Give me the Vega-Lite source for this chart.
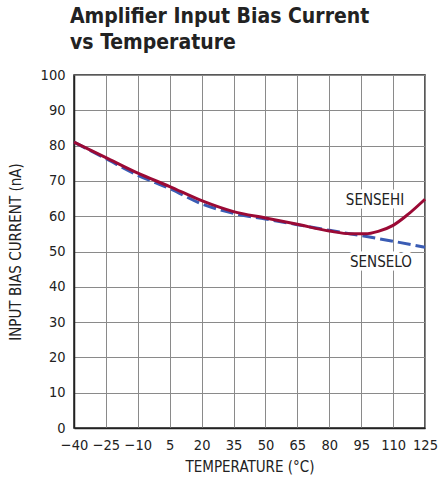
{
  "$schema": "https://vega.github.io/schema/vega-lite/v6.json",
  "width": 351,
  "height": 353,
  "autosize": {"type": "none"},
  "padding": {"left": 74, "top": 75, "right": 15, "bottom": 61},
  "background": "white",
  "title": {
    "text": ["Amplifier Input Bias Current", "vs Temperature"],
    "anchor": "start",
    "frame": "group",
    "font": "Liberation Sans Narrow, DejaVu Sans Condensed, Roboto, sans-serif",
    "fontSize": 21,
    "fontWeight": "bold",
    "color": "#222222",
    "lineHeight": 26,
    "offset": 14,
    "dx": -4
  },
  "config": {
    "view": {"stroke": "#222222", "strokeWidth": 1.5},
    "axis": {
      "ticks": false,
      "grid": true,
      "gridColor": "#8a8a8a",
      "gridWidth": 1,
      "domainColor": "#222222",
      "domainWidth": 1.5,
      "labelFont": "Liberation Sans Narrow, DejaVu Sans Condensed, Roboto, sans-serif",
      "labelFontSize": 14.5,
      "labelColor": "#222222",
      "labelOverlap": false,
      "titleFont": "Liberation Sans Narrow, DejaVu Sans Condensed, Roboto, sans-serif",
      "titleFontSize": 15,
      "titleFontWeight": "normal",
      "titleColor": "#222222"
    }
  },
  "datasets": {
    "curves": [
      {"series": "SENSELO", "temp": -40, "current": 81.0},
      {"series": "SENSELO", "temp": -25, "current": 76.3},
      {"series": "SENSELO", "temp": -10, "current": 71.6},
      {"series": "SENSELO", "temp": 5, "current": 67.8},
      {"series": "SENSELO", "temp": 20, "current": 63.5},
      {"series": "SENSELO", "temp": 35, "current": 60.8},
      {"series": "SENSELO", "temp": 50, "current": 59.2},
      {"series": "SENSELO", "temp": 65, "current": 57.6},
      {"series": "SENSELO", "temp": 80, "current": 56.0},
      {"series": "SENSELO", "temp": 95, "current": 54.5},
      {"series": "SENSELO", "temp": 110, "current": 52.9},
      {"series": "SENSELO", "temp": 125, "current": 51.2},
      {"series": "SENSEHI", "temp": -40, "current": 81.0},
      {"series": "SENSEHI", "temp": -25, "current": 76.6},
      {"series": "SENSEHI", "temp": -10, "current": 72.2},
      {"series": "SENSEHI", "temp": 5, "current": 68.4},
      {"series": "SENSEHI", "temp": 20, "current": 64.4},
      {"series": "SENSEHI", "temp": 35, "current": 61.3},
      {"series": "SENSEHI", "temp": 50, "current": 59.5},
      {"series": "SENSEHI", "temp": 65, "current": 57.7},
      {"series": "SENSEHI", "temp": 80, "current": 55.8},
      {"series": "SENSEHI", "temp": 90, "current": 55.0},
      {"series": "SENSEHI", "temp": 97, "current": 55.0},
      {"series": "SENSEHI", "temp": 103, "current": 55.7},
      {"series": "SENSEHI", "temp": 110, "current": 57.4},
      {"series": "SENSEHI", "temp": 117, "current": 60.5},
      {"series": "SENSEHI", "temp": 125, "current": 64.8}
    ],
    "labels": [
      {"series": "SENSEHI", "temp": 101.5, "current": 64.6},
      {"series": "SENSELO", "temp": 104.3, "current": 47.0}
    ]
  },
  "encoding": {
    "x": {
      "field": "temp", "type": "quantitative",
      "scale": {"domain": [-40, 125], "nice": false, "zero": false},
      "axis": {
        "values": [-40, -25, -10, 5, 20, 35, 50, 65, 80, 95, 110, 125],
        "title": "TEMPERATURE (°C)",
        "labelPadding": 10,
        "titlePadding": 8,
        "labelExpr": "replace(datum.label, '-', '–')",
        "labelFlush": false
      }
    },
    "y": {
      "field": "current", "type": "quantitative",
      "scale": {"domain": [0, 100], "nice": false},
      "axis": {
        "values": [0, 10, 20, 30, 40, 50, 60, 70, 80, 90, 100],
        "title": "INPUT BIAS CURRENT (nA)",
        "labelPadding": 9,
        "titlePadding": 17
      }
    }
  },
  "layer": [
    {
      "data": {"name": "curves"},
      "transform": [{"filter": "datum.series === 'SENSELO'"}],
      "mark": {"type": "line", "interpolate": "monotone", "color": "#3a5cb4", "strokeWidth": 3, "strokeDash": [13, 5]}
    },
    {
      "data": {"name": "curves"},
      "transform": [{"filter": "datum.series === 'SENSEHI'"}],
      "mark": {"type": "line", "interpolate": "monotone", "color": "#9b0a35", "strokeWidth": 3}
    },
    {
      "data": {"name": "labels"},
      "mark": {"type": "text", "font": "Liberation Sans Narrow, DejaVu Sans Condensed, Roboto, sans-serif", "fontSize": 15, "stroke": "white", "strokeWidth": 7, "strokeJoin": "round", "fill": "white"},
      "encoding": {"text": {"field": "series"}}
    },
    {
      "data": {"name": "labels"},
      "mark": {"type": "text", "font": "Liberation Sans Narrow, DejaVu Sans Condensed, Roboto, sans-serif", "fontSize": 15, "color": "#222222"},
      "encoding": {"text": {"field": "series"}}
    }
  ]
}
